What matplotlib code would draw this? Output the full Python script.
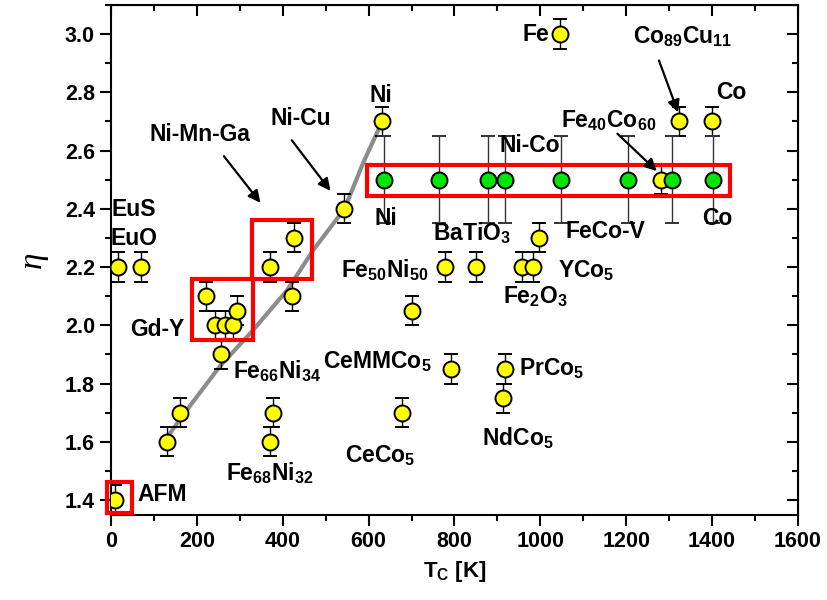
import matplotlib
matplotlib.use("Agg")
import matplotlib.pyplot as plt
from matplotlib.patches import Rectangle
from matplotlib.ticker import MultipleLocator, NullFormatter

plt.rcParams['font.family'] = ['Liberation Sans', 'DejaVu Sans']
plt.rcParams['font.weight'] = 'bold'
plt.rcParams['mathtext.fontset'] = 'custom'
plt.rcParams['mathtext.rm'] = 'Liberation Sans:bold'
plt.rcParams['mathtext.bf'] = 'Liberation Sans:bold'
plt.rcParams['mathtext.it'] = 'Liberation Sans:bold'
plt.rcParams['mathtext.default'] = 'bf'

# yellow points: Tc [K], eta
yellow_T = [16, 70, 9, 130, 161, 222, 243, 266, 285, 294, 256, 371, 422, 427,
            378, 371, 543, 632, 702, 779, 849, 958, 982, 996, 793, 917, 912,
            678, 1045, 1280, 1323, 1400]
yellow_eta = [2.2, 2.2, 1.4, 1.6, 1.7, 2.1, 2.0, 2.0, 2.0, 2.05, 1.9, 2.2, 2.1, 2.3,
              1.7, 1.6, 2.4, 2.7, 2.05, 2.2, 2.2, 2.2, 2.2, 2.3, 1.85, 1.85, 1.75,
              1.7, 3.0, 2.5, 2.7, 2.7]
yellow_err = 0.05

# green points
green_T = [635, 763, 877, 917, 1047, 1203, 1306, 1402]
green_eta = [2.5, 2.5, 2.5, 2.5, 2.5, 2.5, 2.5, 2.5]
green_err = 0.15

# gray guide curve
curve_T = [133, 172, 254, 329, 410, 472, 544, 588, 632]
curve_eta = [1.62, 1.70, 1.86, 1.98, 2.12, 2.26, 2.40, 2.56, 2.70]

# red boxes: (T0, eta0, T1, eta1)
boxes = [(189, 1.949, 331, 2.159),
         (329, 2.159, 469, 2.361),
         (-9, 1.355, 49, 1.462),
         (597, 2.445, 1441, 2.55)]

# labels: text, T, eta (baseline), alignment
labels = [
    ("Fe", 1020, 2.976, 'right'),
    ("Co$_{89}$Cu$_{11}$", 1332, 2.968, 'center'),
    ("Co", 1444, 2.777, 'center'),
    ("Fe$_{40}$Co$_{60}$", 1158, 2.681, 'center'),
    ("Ni", 628, 2.768, 'center'),
    ("Ni-Cu", 441, 2.688, 'center'),
    ("Ni-Mn-Ga", 208, 2.633, 'center'),
    ("Ni-Co", 975, 2.596, 'center'),
    ("Ni", 641, 2.344, 'center'),
    ("BaTiO$_3$", 840, 2.293, 'center'),
    ("FeCo-V", 1152, 2.300, 'center'),
    ("Co", 1412, 2.344, 'center'),
    ("EuS", 54, 2.375, 'center'),
    ("EuO", 54, 2.276, 'center'),
    ("Fe$_{50}$Ni$_{50}$", 637, 2.166, 'center'),
    ("YCo$_5$", 1108, 2.166, 'center'),
    ("Fe$_2$O$_3$", 989, 2.076, 'center'),
    ("Gd-Y", 107, 1.963, 'center'),
    ("Fe$_{66}$Ni$_{34}$", 388, 1.818, 'center'),
    ("CeMMCo$_5$", 621, 1.853, 'center'),
    ("PrCo$_5$", 1027, 1.829, 'center'),
    ("NdCo$_5$", 947, 1.589, 'center'),
    ("CeCo$_5$", 628, 1.530, 'center'),
    ("Fe$_{68}$Ni$_{32}$", 371, 1.469, 'center'),
    ("AFM", 119, 1.396, 'center'),
]

# arrows: (start T, start eta, end T, end eta)
arrows = [(259, 2.588, 352, 2.413),
          (417, 2.643, 515, 2.454),
          (1274, 2.918, 1323, 2.722),
          (1175, 2.664, 1276, 2.523)]

fig = plt.figure(figsize=(8.27, 6.0), dpi=100)
ax = fig.add_axes([0.1342, 0.1423, 0.8307, 0.8496])

ax.plot(curve_T, curve_eta, color='#8c8c8c', lw=3, zorder=2)

ax.errorbar(yellow_T, yellow_eta, yerr=yellow_err, fmt='o', ms=11.5,
            mfc='#ffff00', mec='black', mew=1.4, ecolor='black', elinewidth=1.0,
            capsize=5, capthick=1.0, zorder=3)
ax.errorbar(green_T, green_eta, yerr=green_err, fmt='o', ms=11.5,
            mfc='#00e600', mec='black', mew=1.4, ecolor='#333333', elinewidth=1.0,
            capsize=5, capthick=1.0, zorder=4)

for t0, e0, t1, e1 in boxes:
    ax.add_patch(Rectangle((t0, e0), t1 - t0, e1 - e0, fill=False, ec='#ff0000',
                           lw=3, zorder=5, clip_on=False))

for t0, e0, t1, e1 in arrows:
    ax.annotate("", xy=(t1, e1), xytext=(t0, e0),
                arrowprops=dict(arrowstyle='-|>', color='black', lw=1.6,
                                mutation_scale=18), zorder=6)

for txt, t, e, ha in labels:
    ax.text(t, e, txt, fontsize=16.5, fontweight='bold', ha=ha, va='baseline', zorder=7)

ax.set_xlim(0, 1600)
ax.set_ylim(1.35, 3.1)
ax.xaxis.set_major_locator(MultipleLocator(200))
ax.xaxis.set_minor_locator(MultipleLocator(100))
ax.set_yticks([1.4, 1.6, 1.8, 2.0, 2.2, 2.4, 2.6, 2.8, 3.0])
ax.yaxis.set_minor_locator(MultipleLocator(0.1))
ax.tick_params(which='major', direction='out', length=8, width=1.5, labelsize=15.5)
ax.tick_params(which='minor', direction='out', length=4, width=1.5)
for s in ax.spines.values():
    s.set_linewidth(1.5)

top = ax.secondary_xaxis('top')
top.xaxis.set_major_locator(MultipleLocator(200))
top.xaxis.set_minor_locator(MultipleLocator(100))
top.xaxis.set_major_formatter(NullFormatter())
top.tick_params(which='major', direction='in', length=8, width=1.5)
top.tick_params(which='minor', direction='in', length=4, width=1.5)
right = ax.secondary_yaxis('right')
right.yaxis.set_major_locator(MultipleLocator(0.2))
right.yaxis.set_minor_locator(MultipleLocator(0.1))
right.yaxis.set_major_formatter(NullFormatter())
right.tick_params(which='major', direction='in', length=8, width=1.5)
right.tick_params(which='minor', direction='in', length=4, width=1.5)

ax.set_xlabel("T$_C$ [K]", fontsize=16, fontweight='bold', labelpad=5)
ax.set_ylabel("η", fontsize=24, fontstyle='italic', fontweight='normal',
              family='Liberation Serif', labelpad=12)

fig.savefig("out.png", dpi=100)
